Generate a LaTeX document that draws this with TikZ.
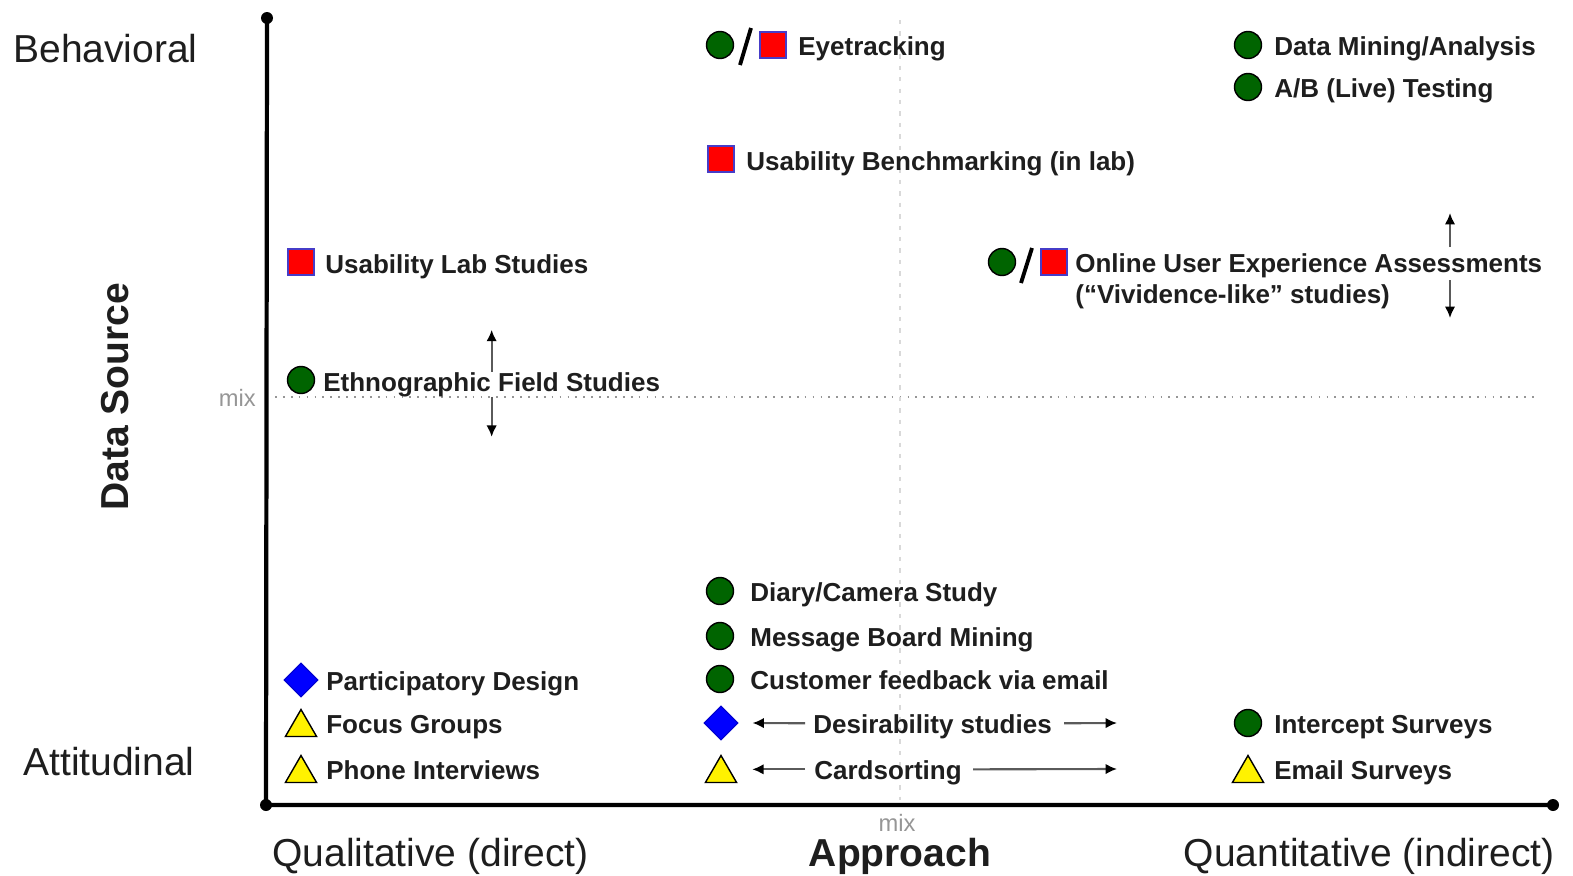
\documentclass[tikz,border=0pt]{standalone}
\usepackage{fontspec}
\setmainfont{Liberation Sans}
\usepackage{tikz}
\usetikzlibrary{shapes.geometric,arrows.meta,calc}

\definecolor{mkgreen}{RGB}{0,100,0}
\definecolor{boxblue}{RGB}{70,60,200}
\definecolor{txtgray}{RGB}{30,30,30}
\definecolor{mixgray}{RGB}{150,150,150}
\definecolor{arrgray}{RGB}{90,90,90}

\begin{document}
\begin{tikzpicture}[x=0.02cm,y=-0.02cm,
    txt/.style={anchor=base west,inner sep=0pt,text=txtgray,font=\fontsize{14.8}{17.6}\selectfont\bfseries},
    biglbl/.style={inner sep=0pt,text=txtgray,font=\fontsize{22.2}{26}\selectfont},
    mixlbl/.style={inner sep=0pt,text=mixgray,font=\fontsize{13.5}{16}\selectfont},
    gdot/.style={circle,draw=black,fill=mkgreen,line width=0.8pt,minimum size=0.54cm,inner sep=0pt},
    rbox/.style={rectangle,draw=boxblue,fill=red,line width=0.8pt,minimum size=0.52cm,inner sep=0pt},
    bdia/.style={diamond,draw=blue!80!black,fill=blue,line width=0.6pt,minimum size=0.68cm,inner sep=0pt},
    ytri/.style={regular polygon,regular polygon sides=3,draw=black,fill=yellow,line width=0.8pt,minimum size=0.72cm,inner sep=0pt,yshift=-0.09cm},
    arr/.style={draw=arrgray,line width=1.2pt,-{Latex[length=6.5pt,width=6pt,color=black]}},
    slashline/.style={line width=2.2pt,black},
    axisline/.style={line width=2.4pt,black}]

    \fill[white] (0,0) rectangle (1573,876);
    \useasboundingbox (0,0) rectangle (1573,876);

    % mix lines
    \draw[mixgray, line width=1pt, dash pattern=on 1pt off 3.5pt] (275,397) -- (1540,397);
    \draw[gray!30, line width=1.3pt, dash pattern=on 2.5pt off 4pt] (900,20) -- (900,800);

    % axes
    \coordinate (ytop) at (267,18);
    \coordinate (orig) at (266,805);
    \coordinate (xend) at (1553,805);
    \draw[axisline] (ytop) -- (orig) -- (xend);
    \fill (ytop) circle (0.12cm);
    \fill (orig) circle (0.12cm);
    \fill (xend) circle (0.12cm);

    % axis labels
    \node[biglbl, anchor=base west] (behav) at (13,62) {Behavioral};
    \node[biglbl, anchor=base west] (attit) at (23,775) {Attitudinal};
    \node[biglbl, font=\fontsize{22.2}{26}\selectfont\bfseries, rotate=90] (dsrc) at (115,397) {Data Source};
    \node[biglbl, anchor=base west] (qual) at (272,866) {Qualitative (direct)};
    \node[biglbl, font=\fontsize{22.2}{26}\selectfont\bfseries, anchor=base] (appr) at (900,866) {Approach};
    \node[biglbl, anchor=base east] (quant) at (1555,866) {Quantitative (indirect)};
    \node[mixlbl, anchor=east] (mixy) at (256,398) {mix};
    \node[mixlbl] (mixx) at (897,823) {mix};

    % behavioral, top
    \node[gdot] (eyec) at (720,45) {};
    \node[rbox] (eyes) at (773,45) {};
    \draw[slashline] ($(eyec)+(20,20)$) -- ($(eyec)+(31,-17)$);
    \node[txt] (eye) at (798,55) {Eyetracking};

    \node[gdot] (minec) at (1248,45) {};
    \node[txt] (mine) at (1274,55) {Data Mining/Analysis};
    \node[gdot] (abc) at (1248,87) {};
    \node[txt] (ab) at (1274,97) {A/B (Live) Testing};

    \node[rbox] (benchs) at (721,159) {};
    \node[txt] (bench) at (746,170) {Usability Benchmarking (in lab)};

    % online assessments
    \node[gdot] (onlc) at (1002,262) {};
    \node[rbox] (onls) at (1054,262) {};
    \draw[slashline] ($(onlc)+(19,21)$) -- ($(onlc)+(30,-14)$);
    \node[txt] (onl) at (1075,272) {Online User Experience Assessments};
    \node[txt] (onl2) at (1075,303) {(“Vividence-like” studies)};
    \coordinate (onup0) at (1450,247);
    \coordinate (onup1) at (1450,213);
    \coordinate (ondn0) at (1450,280);
    \coordinate (ondn1) at (1450,318);
    \draw[arr] (onup0) -- (onup1);
    \draw[arr] (ondn0) -- (ondn1);

    % lab and field
    \node[rbox] (labs) at (301,262) {};
    \node[txt] (lab) at (325,273) {Usability Lab Studies};
    \node[gdot] (ethnoc) at (301,380) {};
    \node[txt] (ethno) at (323,391) {Ethnographic Field Studies};
    \draw[arr] (ethno.north) -- ++(0,-42);
    \draw[arr] (ethno.south) -- ++(0,40);

    % attitudinal, middle
    \node[gdot] (diaryc) at (720,591) {};
    \node[txt] (diary) at (750,601) {Diary/Camera Study};
    \node[gdot] (msgc) at (720,636) {};
    \node[txt] (msg) at (750,646) {Message Board Mining};
    \node[gdot] (custc) at (720,679) {};
    \node[txt] (cust) at (750,689) {Customer feedback via email};

    \node[bdia] (desd) at (721,723) {};
    \node[txt] (des) at (813,733) {Desirability studies};
    \coordinate (desend) at (1117,723);
    \draw[arr] ($(des.west)+(-8,-3)$) -- ($(desd.east)+(14,0)$);
    \draw[arr] ($(des.east)+(12,-3)$) -- (desend);

    \node[ytri] (cardt) at (721,769) {};
    \node[txt] (card) at (814,779) {Cardsorting};
    \coordinate (cardend) at (1117,769);
    \draw[arr] ($(card.west)+(-9,-3)$) -- ($(card.west -| cardt.east)+(20,-3)$);
    \draw[arr] ($(card.east)+(11,-3)$) -- (cardend);

    % attitudinal, left
    \node[bdia] (partd) at (301,680) {};
    \node[txt] (part) at (326,690) {Participatory Design};
    \node[ytri] (focust) at (301,723) {};
    \node[txt] (focus) at (326,733) {Focus Groups};
    \node[ytri] (phonet) at (301,769) {};
    \node[txt] (phone) at (326,779) {Phone Interviews};

    % attitudinal, right
    \node[gdot] (intc) at (1248,723) {};
    \node[txt] (int) at (1274,733) {Intercept Surveys};
    \node[ytri] (mailt) at (1248,769) {};
    \node[txt] (mail) at (1274,779) {Email Surveys};
\end{tikzpicture}
\end{document}
